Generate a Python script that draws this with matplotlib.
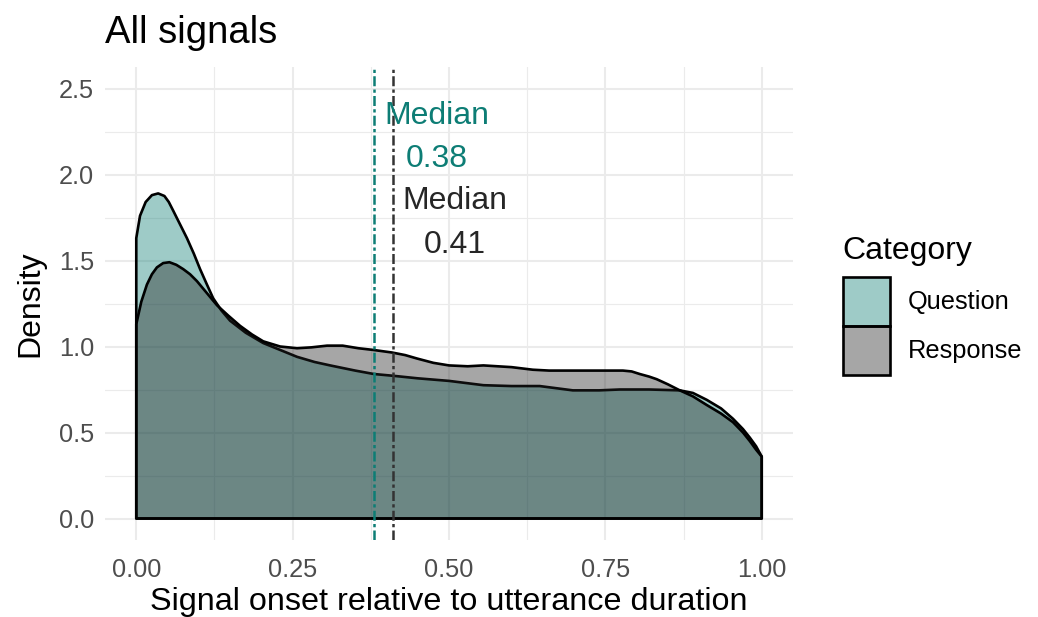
import numpy as np
import matplotlib
matplotlib.use('Agg')
import matplotlib.pyplot as plt
from matplotlib.patches import Patch

plt.rcParams['font.family'] = ['Liberation Sans', 'DejaVu Sans']

# density curves
q_x = [0.000, 0.006, 0.015, 0.025, 0.035, 0.045, 0.052, 0.059, 0.070, 0.081,
       0.092, 0.102, 0.113, 0.123, 0.136, 0.150, 0.175, 0.203, 0.230, 0.257,
       0.285, 0.310, 0.350, 0.380, 0.410, 0.450, 0.500, 0.555, 0.600, 0.645,
       0.698, 0.740, 0.773, 0.820, 0.869, 0.890, 0.912, 0.935, 0.954, 0.970,
       0.981, 0.991, 1.000]
q_y = [1.63, 1.76, 1.84, 1.88, 1.89, 1.875, 1.84, 1.79, 1.71, 1.63,
       1.54, 1.45, 1.36, 1.28, 1.21, 1.15, 1.08, 1.02, 0.98, 0.94,
       0.91, 0.89, 0.86, 0.84, 0.83, 0.815, 0.80, 0.775, 0.77, 0.77,
       0.745, 0.745, 0.75, 0.75, 0.745, 0.73, 0.69, 0.64, 0.58, 0.52,
       0.47, 0.42, 0.36]

r_x = [0.000, 0.008, 0.017, 0.025, 0.033, 0.043, 0.053, 0.064, 0.075, 0.086,
       0.097, 0.113, 0.129, 0.147, 0.166, 0.185, 0.203, 0.230, 0.257, 0.280,
       0.305, 0.330, 0.355, 0.379, 0.409, 0.430, 0.449, 0.475, 0.500, 0.530,
       0.555, 0.600, 0.634, 0.660, 0.700, 0.740, 0.778, 0.792, 0.805, 0.820,
       0.832, 0.850, 0.869, 0.890, 0.912, 0.935, 0.954, 0.970, 0.981, 0.991,
       1.000]
r_y = [1.13, 1.26, 1.36, 1.42, 1.46, 1.485, 1.49, 1.475, 1.45, 1.42,
       1.38, 1.31, 1.24, 1.18, 1.12, 1.07, 1.03, 1.00, 0.99, 0.995,
       1.005, 1.005, 0.99, 0.98, 0.965, 0.95, 0.93, 0.905, 0.89, 0.885,
       0.89, 0.88, 0.865, 0.86, 0.86, 0.86, 0.86, 0.855, 0.84, 0.825,
       0.81, 0.78, 0.745, 0.71, 0.66, 0.61, 0.56, 0.50, 0.45, 0.40,
       0.36]

categories = ['Question', 'Response']
medians = [0.38, 0.41]
label_y = [2.215, 1.72]

teal = '#0d7d75'
fills = [(0.051, 0.490, 0.459, 0.4), (0.129, 0.129, 0.129, 0.4)]
line_cols = [teal, '#333333']
text_cols = [teal, '#262626']

fig = plt.figure(figsize=(10.38, 6.17), dpi=100)
ax = fig.add_axes([105 / 1038, 1 - 540 / 617, 688 / 1038, 473 / 617])

for xs, ys, fc in [(q_x, q_y, fills[0]), (r_x, r_y, fills[1])]:
    px = np.r_[xs[0], xs, xs[-1]]
    py = np.r_[0, ys, 0]
    ax.fill(px, py, facecolor=fc, edgecolor='black', linewidth=1.9,
            joinstyle='round', zorder=2)

for m, ly, lc, tc in zip(medians, label_y, line_cols, text_cols):
    ax.axvline(m, color=lc, linewidth=1.8, linestyle=(0, (4.0, 1.3, 1.3, 1.3)), zorder=3)
    ax.text(m + 0.1, ly, f'Median\n{m:.2f}', color=tc, fontsize=23,
            ha='center', va='center', multialignment='center',
            linespacing=1.6, zorder=4)

ax.set_xlim(-0.05, 1.05)
ax.set_ylim(-0.125, 2.625)
ax.set_xticks([0, 0.25, 0.5, 0.75, 1.0])
ax.set_xticklabels(['0.00', '0.25', '0.50', '0.75', '1.00'])
ax.set_yticks([0, 0.5, 1.0, 1.5, 2.0, 2.5])
ax.set_yticklabels(['0.0', '0.5', '1.0', '1.5', '2.0', '2.5'])
ax.set_xticks([0.125, 0.375, 0.625, 0.875], minor=True)
ax.set_yticks([0.25, 0.75, 1.25, 1.75, 2.25], minor=True)
ax.grid(which='major', color='#ebebeb', linewidth=1.5)
ax.grid(which='minor', color='#ebebeb', linewidth=0.8)
ax.set_axisbelow(True)
ax.tick_params(which='both', length=0, labelsize=18.3, labelcolor='#4d4d4d')
ax.tick_params(axis='x', pad=13)
ax.tick_params(axis='y', pad=8)
for s in ax.spines.values():
    s.set_visible(False)

ax.set_xlabel('Signal onset relative to utterance duration', fontsize=23.3)
ax.xaxis.set_label_coords(0.5, (540 - 602) / 473)
ax.xaxis.label.set_va('center')
ax.set_ylabel('Density', fontsize=23)
ax.yaxis.set_label_coords((30 - 105) / 688, 0.5)
ax.yaxis.label.set_va('center')

fig.text(105 / 1038, 1 - 33 / 617, 'All signals', fontsize=27.5, va='center', ha='left')

handles = [Patch(facecolor=fc, edgecolor='black', linewidth=1.9) for fc in fills]
leg = fig.legend(handles, categories, title='Category', loc='upper left',
                 bbox_to_anchor=(830 / 1038, 1 - 223 / 617), frameon=False,
                 fontsize=18.3, title_fontsize=23, borderpad=0, labelspacing=0,
                 handlelength=1.85, handleheight=2.6, handletextpad=0.7,
                 alignment='left')
leg._legend_box.sep = 8

fig.savefig('out.png', dpi=100)
